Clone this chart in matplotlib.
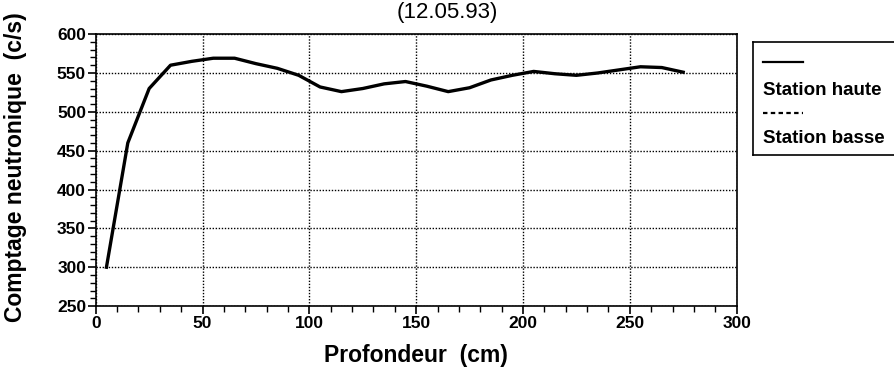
import matplotlib
matplotlib.use("Agg")
import matplotlib.pyplot as plt
from matplotlib.ticker import MultipleLocator

# Profil neutronique - station haute (12.05.93)
profondeur = [5, 15, 25, 35, 45, 55, 65, 75, 85, 95, 105, 115, 125, 135,
              145, 155, 165, 175, 185, 195, 205, 215, 225, 235, 245, 255,
              265, 275]
comptage = [300, 460, 530, 560, 565, 569, 569, 562, 556, 547, 532, 526,
            530, 536, 539, 533, 526, 531, 541, 547, 552, 549, 547, 550,
            554, 558, 557, 551]

title = "(12.05.93)"
xlabel = "Profondeur  (cm)"
ylabel = "Comptage neutronique  (c/s)"
legend_labels = ["Station haute", "Station basse"]

plt.rcParams['font.family'] = ['Liberation Sans', 'DejaVu Sans']

fig = plt.figure(figsize=(8.95, 3.71), dpi=100)
ax = fig.add_axes([0.107, 0.175, 0.716, 0.733])

ax.plot(profondeur, comptage, color='black', lw=2.4)

ax.set_xlim(0, 300)
ax.set_ylim(250, 600)
ax.xaxis.set_major_locator(MultipleLocator(50))
ax.xaxis.set_minor_locator(MultipleLocator(10))
ax.yaxis.set_major_locator(MultipleLocator(50))
ax.yaxis.set_minor_locator(MultipleLocator(10))
ax.grid(True, which='major', color='black', linestyle=(0, (1, 1.2)), lw=1.0)
ax.tick_params(which='major', direction='out', length=6, width=1.2,
               labelsize=12.5, pad=1)
ax.tick_params(which='minor', direction='out', length=4, width=1)
for lab in ax.get_xticklabels() + ax.get_yticklabels():
    lab.set_fontweight('bold')
for s in ax.spines.values():
    s.set_linewidth(1.2)

ax.set_xlabel(xlabel, fontsize=16.5, fontweight='bold')
ax.set_ylabel(ylabel, fontsize=16.5, fontweight='bold')
ax.xaxis.set_label_coords(0.5, -0.14)
ax.yaxis.set_label_coords(-0.108, 0.51)

fig.text(447 / 895, 1 - 18 / 371, title, fontsize=16, ha='center',
         va='baseline')

# legend box drawn by hand, as in the original
leg_ax = fig.add_axes([753 / 895, 1 - 155 / 371, 150 / 895, 113 / 371])
leg_ax.set_xlim(0, 150)
leg_ax.set_ylim(113, 0)
leg_ax.set_xticks([])
leg_ax.set_yticks([])
for s in leg_ax.spines.values():
    s.set_linewidth(1.2)
leg_ax.plot([10, 50], [20, 20], color='black', lw=1.6)
leg_ax.plot([10, 50], [71, 71], color='black', lw=1.6, ls=(0, (2, 1.5)))
leg_ax.text(10, 48, legend_labels[0], fontsize=13.5, fontweight='bold',
            va='center')
leg_ax.text(10, 96, legend_labels[1], fontsize=13.5, fontweight='bold',
            va='center')

fig.savefig('out.png', dpi=100)
